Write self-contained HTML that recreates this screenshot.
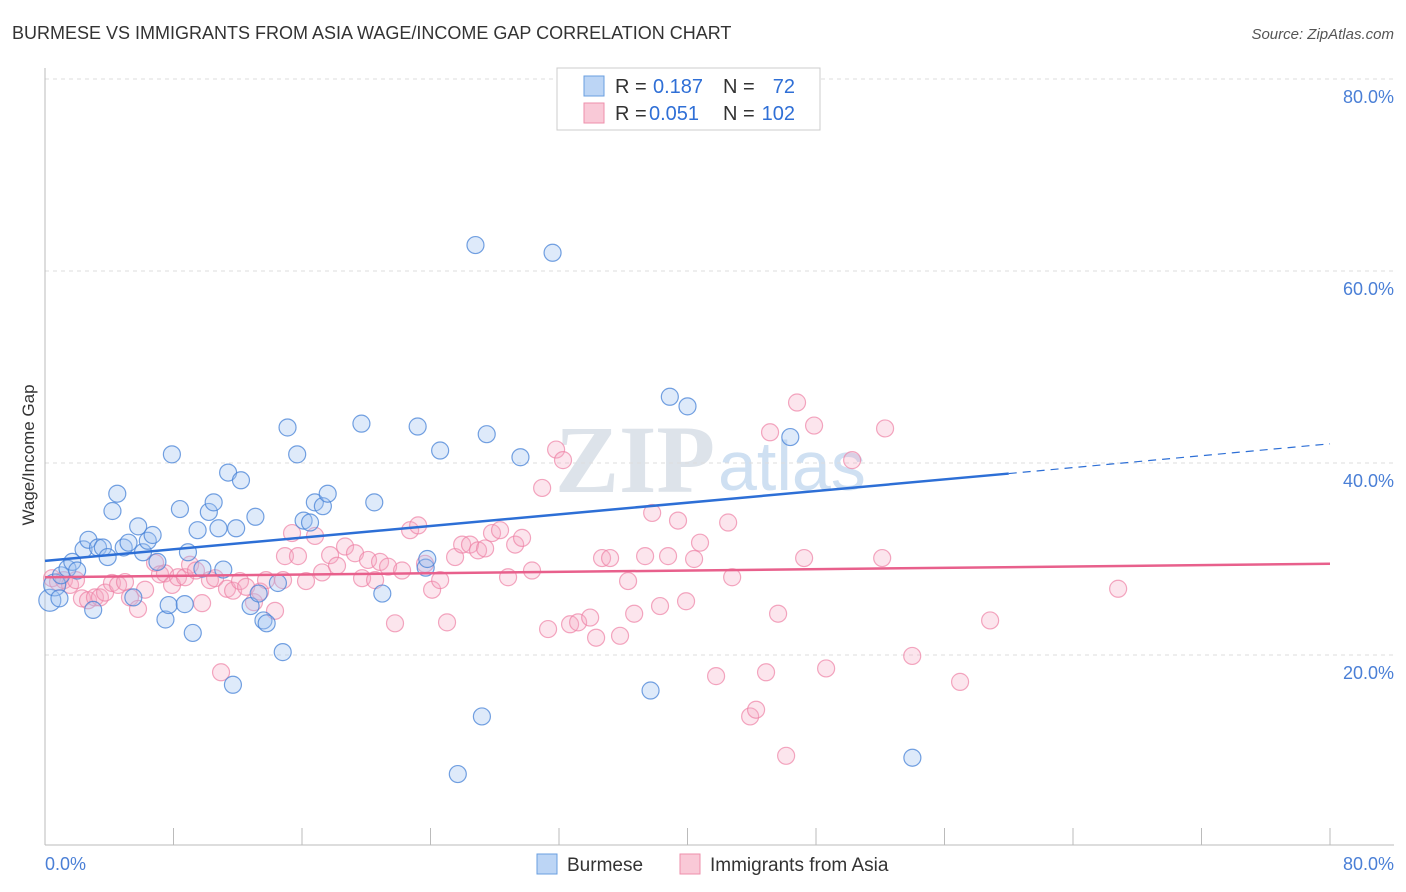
<!DOCTYPE html>
<html><head><meta charset="utf-8"><style>
body{margin:0;background:#fff;font-family:"Liberation Sans",sans-serif;}
#wrap{position:relative;width:1406px;height:892px;overflow:hidden}
</style></head><body>
<div id="wrap">
<svg id="svg" width="1406" height="892">
<text x="12" y="39" font-size="18" fill="#333">BURMESE VS IMMIGRANTS FROM ASIA WAGE/INCOME GAP CORRELATION CHART</text>
<text x="1394" y="39" font-size="15" fill="#555" font-style="italic" text-anchor="end">Source: ZipAtlas.com</text>
<text x="555" y="492" font-size="96" fill="#dde3ea" font-family="Liberation Serif" font-weight="bold">ZIP</text>
<text x="718" y="490" font-size="70" fill="#cfe0f2">atlas</text>
<text transform="translate(34,455) rotate(-90)" font-size="17" fill="#333" text-anchor="middle">Wage/Income Gap</text>
<g id="grid"></g><g id="pts"></g><g id="trend"></g>
<g>
<rect x="557" y="68" width="263" height="62" fill="#fff" stroke="#ccc"/>
<rect x="584" y="76" width="20" height="20" fill="#bcd5f5" stroke="#6a9fe0"/>
<rect x="584" y="103" width="20" height="20" fill="#f9c9d7" stroke="#ee8fab"/>
<text x="615" y="93" font-size="20" fill="#333">R =</text>
<text x="653" y="93" font-size="20" fill="#2f6fd6">0.187</text>
<text x="723" y="93" font-size="20" fill="#333">N =</text>
<text x="795" y="93" font-size="20" fill="#2f6fd6" text-anchor="end">72</text>
<text x="615" y="120" font-size="20" fill="#333">R =</text>
<text x="649" y="120" font-size="20" fill="#2f6fd6">0.051</text>
<text x="723" y="120" font-size="20" fill="#333">N =</text>
<text x="795" y="120" font-size="20" fill="#2f6fd6" text-anchor="end">102</text>
</g>
<g>
<rect x="537" y="854" width="20" height="20" fill="#bcd5f5" stroke="#6a9fe0"/>
<text x="567" y="871" font-size="19" fill="#333">Burmese</text>
<rect x="680" y="854" width="20" height="20" fill="#f9c9d7" stroke="#ee8fab"/>
<text x="710" y="871" font-size="19" fill="#333">Immigrants from Asia</text>
</g>
<text x="45" y="870" font-size="18" fill="#4a7fd6">0.0%</text>
<text x="1394" y="870" font-size="18" fill="#4a7fd6" text-anchor="end">80.0%</text>
</svg></div>
<script>
const yTicks=[20,40,60,80];
const xTickCount=[0,8,16,24,32,40,48,56,64,72,80];
const blueX=[0.3,0.6,0.9,1.0,1.4,1.7,2.0,2.4,2.7,3.0,3.3,3.6,3.9,4.2,4.5,4.9,5.2,5.5,5.8,6.1,6.4,6.7,7.0,7.5,7.7,7.9,8.4,8.7,8.9,9.2,9.5,9.8,10.2,10.5,10.8,11.1,11.4,11.7,11.9,12.2,12.8,13.1,13.3,13.6,13.8,14.5,14.8,15.1,15.7,16.1,16.5,16.8,17.3,17.6,19.7,20.5,21.0,23.2,23.7,23.8,24.6,25.7,26.8,27.2,27.5,29.6,31.6,37.7,38.9,40.0,46.4,54.0];
const blueY=[25.7,27.3,25.9,28.3,29.0,29.7,28.8,31.0,32.0,24.7,31.2,31.2,30.2,35.0,36.8,31.2,31.7,26.0,33.4,30.7,31.9,32.5,29.7,23.7,25.2,40.9,35.2,25.3,30.7,22.3,33.0,29.0,34.9,35.9,33.2,28.9,39.0,16.9,33.2,38.2,25.1,34.4,26.4,23.6,23.3,27.5,20.3,43.7,40.9,34.0,33.8,35.9,35.5,36.8,44.1,35.9,26.4,43.8,29.1,30.0,41.3,7.6,62.7,13.6,43.0,40.6,61.9,16.3,46.9,45.9,42.7,9.3];
const pinkX=[0.44,0.81,1.18,1.56,1.93,2.30,2.68,3.11,3.42,3.74,4.17,4.55,4.98,5.29,5.79,6.23,6.85,7.16,7.47,7.91,8.28,8.72,9.03,9.40,9.78,10.27,10.59,10.96,11.33,11.71,12.14,12.52,13.01,13.39,13.76,14.32,14.82,14.94,15.38,15.75,16.25,16.81,17.25,17.75,18.18,18.68,19.30,19.74,20.11,20.55,20.86,21.36,21.79,22.23,22.73,23.23,23.66,24.10,24.60,25.03,25.53,25.97,26.46,26.96,27.40,27.83,28.33,28.83,29.27,29.70,30.32,30.95,31.32,31.82,32.25,32.69,33.19,33.94,34.31,34.68,35.18,35.80,36.30,36.68,37.36,37.80,38.29,38.79,39.41,39.91,40.41,40.78,41.78,42.53,42.78,43.90,44.27,44.89,45.14,45.64,46.14,46.82,47.26,47.88,48.63,50.25,52.12,52.30,53.99,56.97,58.84,66.81];
const pinkY=[28.0,27.6,27.8,27.3,27.8,25.9,25.7,26.0,26.0,26.5,27.5,27.3,27.6,26.0,24.8,26.8,29.6,28.4,28.5,27.3,28.1,28.1,29.4,28.8,25.4,27.8,28.0,18.2,26.9,26.7,27.7,27.1,25.5,26.6,27.8,24.6,27.8,30.3,32.7,30.3,27.7,32.4,28.6,30.4,29.3,31.3,30.6,28.0,29.9,27.8,29.7,29.2,23.3,28.8,33.0,33.5,29.5,26.8,27.8,23.4,30.2,31.5,31.5,30.9,31.1,32.7,33.0,28.1,31.5,32.2,28.8,37.4,22.7,41.4,40.3,23.2,23.4,23.9,21.8,30.1,30.1,22.0,27.7,24.3,30.3,34.8,25.1,30.3,34.0,25.6,30.0,31.7,17.8,33.8,28.1,13.6,14.3,18.2,43.2,24.3,9.5,46.3,30.1,43.9,18.6,40.3,30.1,43.6,19.9,17.2,23.6,26.9];
const blueTrend=[[0,29.8],[60,38.9],[80,42.0]];
const pinkTrend=[[0,28.1],[80,29.5]];
const X0=45,X1=1330,YB=847,YT=79;
const xs=v=>X0+v*(X1-X0)/80, ys=v=>YB-v*(YB-YT)/80;
const NS="http://www.w3.org/2000/svg";
function mk(tag,attrs,parent){const e=document.createElementNS(NS,tag);for(const k in attrs)e.setAttribute(k,attrs[k]);parent.appendChild(e);return e;}
const grid=document.getElementById('grid');
yTicks.forEach(t=>{
 const l=mk('line',{x1:X0,x2:1394,y1:ys(t),y2:ys(t),stroke:'#ddd','stroke-dasharray':'4,4'},grid);
 
 
 const tx=mk('text',{x:1394,y:ys(t)+24,'font-size':18,fill:'#4a7fd6','text-anchor':'end'},grid);
 tx.textContent=t.toFixed(1)+'%';
 
 
});
const ax=mk('line',{x1:X0,x2:X0,y1:68,y2:845,stroke:'#bbb'},grid);


const bx=mk('line',{x1:X0,x2:1394,y1:845,y2:845,stroke:'#bbb'},grid);


xTickCount.forEach(t=>{
 const l=mk('line',{x1:xs(t),x2:xs(t),y1:828,y2:845,stroke:'#bbb'},grid);
 
 
});
const pts=document.getElementById('pts');
pinkX.forEach((v,i)=>{
 const c=mk('circle',{cx:xs(v),cy:ys(pinkY[i]),r:8.5,fill:'rgba(246,170,195,0.3)',stroke:'rgba(238,130,165,0.7)','stroke-width':1.2},pts);
 
 
});
blueX.forEach((v,i)=>{
 const c=mk('circle',{cx:xs(v),cy:ys(blueY[i]),r:i<2?11:8.5,fill:'rgba(160,195,240,0.35)',stroke:'rgba(70,130,215,0.75)','stroke-width':1.2},pts);
 
 
});
const tr=document.getElementById('trend');
const b1=mk('line',{x1:xs(blueTrend[0][0]),y1:ys(blueTrend[0][1]),x2:xs(blueTrend[1][0]),y2:ys(blueTrend[1][1]),stroke:'#2d6fd6','stroke-width':2.5},tr);


const b2=mk('line',{x1:xs(blueTrend[1][0]),y1:ys(blueTrend[1][1]),x2:xs(blueTrend[2][0]),y2:ys(blueTrend[2][1]),stroke:'#2d6fd6','stroke-width':1.2,'stroke-dasharray':'8,6'},tr);


const p1=mk('line',{x1:xs(pinkTrend[0][0]),y1:ys(pinkTrend[0][1]),x2:xs(pinkTrend[1][0]),y2:ys(pinkTrend[1][1]),stroke:'#e8608c','stroke-width':2.5},tr);


</script>
</body></html>
